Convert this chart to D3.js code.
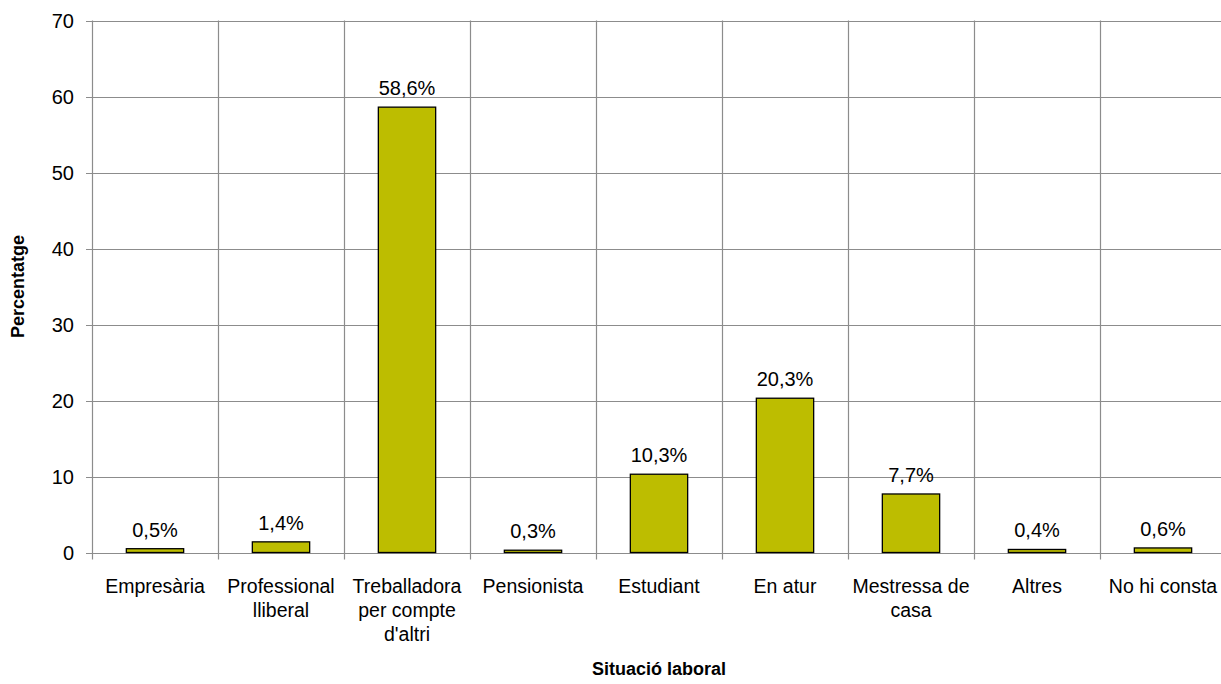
<!DOCTYPE html>
<html><head><meta charset="utf-8">
<script src="https://cdn.jsdelivr.net/npm/d3@7"></script>
<style>body{margin:0;background:#fff}svg{display:block}text{font-family:"Liberation Sans",Arial,sans-serif;fill:#000}</style>
</head><body><svg id="c" width="1221" height="684"></svg>
<script>
const categories = ["Empresària","Professional lliberal","Treballadora per compte d'altri","Pensionista","Estudiant","En atur","Mestressa de casa","Altres","No hi consta"];
const categoryLines = [["Empresària"],["Professional","lliberal"],["Treballadora","per compte","d'altri"],["Pensionista"],["Estudiant"],["En atur"],["Mestressa de","casa"],["Altres"],["No hi consta"]];
const values = [0.5,1.4,58.6,0.3,10.3,20.3,7.7,0.4,0.6];
const valueLabels = ["0,5%","1,4%","58,6%","0,3%","10,3%","20,3%","7,7%","0,4%","0,6%"];
const yTicks = [0,10,20,30,40,50,60,70];
const xTitle = "Situació laboral";
const yTitle = "Percentatge";

const svg = d3.select("#c");
const mLeft = 92, mRight = 1226, mTop = 20.5, mBottom = 552.5;
const x = d3.scaleBand().domain(categories).range([mLeft,mRight]).paddingInner(0).paddingOuter(0);
const y = d3.scaleLinear().domain([0,70]).range([mBottom,mTop]);
const grid = "#8c8c8c";

svg.append("g").selectAll("line").data(yTicks).join("line")
  .attr("x1",mLeft-6).attr("x2",mRight).attr("y1",d=>Math.round(y(d))+0.5).attr("y2",d=>Math.round(y(d))+0.5)
  .attr("stroke",grid).attr("stroke-width",1.2);
const bounds = categories.map(c=>x(c)).concat([mRight]);
svg.append("g").selectAll("line").data(bounds).join("line")
  .attr("x1",d=>Math.round(d)+0.5).attr("x2",d=>Math.round(d)+0.5)
  .attr("y1",mTop).attr("y2",mBottom+7)
  .attr("stroke",grid).attr("stroke-width",1.2);

svg.append("g").selectAll("text").data(yTicks).join("text")
  .attr("x",74).attr("y",d=>y(d)).attr("dy","0.36em").attr("text-anchor","end")
  .style("font-size","20px").text(d=>d);

const bw = x.bandwidth()*0.455;
svg.append("g").selectAll("rect").data(values).join("rect")
  .attr("x",(d,i)=>x(categories[i])+x.bandwidth()/2-bw/2)
  .attr("width",bw)
  .attr("y",d=>y(d)).attr("height",d=>mBottom-y(d))
  .attr("fill","#bdbd00").attr("stroke","#000").attr("stroke-width",1.3);

svg.append("g").selectAll("text").data(values).join("text")
  .attr("x",(d,i)=>x(categories[i])+x.bandwidth()/2)
  .attr("y",d=>y(d)-12).attr("text-anchor","middle")
  .style("font-size","20px").text((d,i)=>valueLabels[i]);

const cg = svg.append("g");
categories.forEach((c,i)=>{
  const t = cg.append("text").attr("text-anchor","middle").style("font-size","19.5px")
    .attr("x",x(c)+x.bandwidth()/2).attr("y",593);
  categoryLines[i].forEach((ln,j)=>t.append("tspan").attr("x",x(c)+x.bandwidth()/2).attr("dy",j?24:0).text(ln));
});

svg.append("text").attr("x",(mLeft+mRight)/2).attr("y",675).attr("text-anchor","middle")
  .style("font-size","18px").style("font-weight","bold").text(xTitle);
svg.append("text").attr("transform",`translate(24,${(mTop+mBottom)/2}) rotate(-90)`).attr("text-anchor","middle")
  .style("font-size","18px").style("font-weight","bold").text(yTitle);
</script></body></html>
